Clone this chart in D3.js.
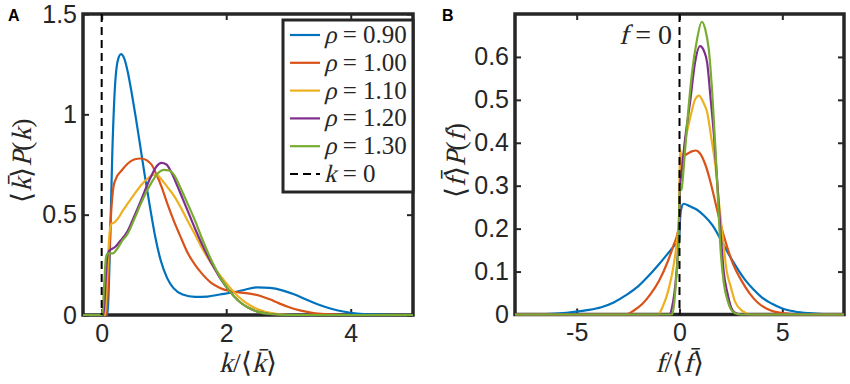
<!DOCTYPE html>
<html><head><meta charset="utf-8">
<script src="https://cdn.jsdelivr.net/npm/d3@7"></script>
<style>
body{margin:0;background:#fff}
text.math{white-space:pre}
</style></head><body>
<svg id="chart" width="850" height="384"></svg>
<script>
var rhoLabels = ["0.90", "1.00", "1.10", "1.20", "1.30"];
var colors = ["#0072bd", "#d95319", "#edb120", "#7e2f8e", "#77ac30"];

var aXTicks = [0, 2, 4], aYTicks = [0, 0.5, 1, 1.5];
var bXTicks = [-5, 0, 5], bYTicks = [0, 0.1, 0.2, 0.3, 0.4, 0.5, 0.6];

// panel A: <k>P(k) vs k/<k>
var kBlue = [[-0.3,0],[0.09,0],[0.13,0.3],[0.17,0.8],[0.21,1.12],[0.26,1.27],[0.31,1.30],[0.36,1.28],[0.42,1.21],[0.48,1.11],[0.55,0.98],[0.63,0.82],[0.70,0.68],[0.78,0.53],[0.86,0.39],[0.95,0.27],[1.05,0.185],[1.15,0.135],[1.3,0.102],[1.5,0.09],[1.7,0.092],[1.9,0.102],[2.1,0.112],[2.3,0.126],[2.5,0.138],[2.7,0.135],[2.9,0.123],[3.1,0.102],[3.3,0.075],[3.5,0.05],[3.7,0.03],[3.9,0.016],[4.1,0.007],[4.4,0.002],[4.8,0],[5,0]];
var kOrange = [[-0.3,0],[0.07,0],[0.11,0.2],[0.15,0.5],[0.19,0.64],[0.23,0.68],[0.32,0.72],[0.42,0.755],[0.52,0.775],[0.63,0.78],[0.72,0.772],[0.8,0.75],[0.88,0.70],[0.96,0.64],[1.06,0.55],[1.17,0.46],[1.28,0.38],[1.38,0.31],[1.5,0.25],[1.6,0.21],[1.76,0.16],[1.9,0.135],[2.05,0.12],[2.2,0.113],[2.4,0.105],[2.55,0.095],[2.7,0.078],[2.85,0.058],[3.0,0.04],[3.2,0.022],[3.4,0.01],[3.6,0.004],[3.9,0],[5,0]];
var kYellow = [[-0.3,0],[0.05,0],[0.09,0.2],[0.13,0.42],[0.16,0.455],[0.2,0.46],[0.26,0.48],[0.34,0.52],[0.42,0.556],[0.52,0.6],[0.63,0.645],[0.72,0.675],[0.8,0.695],[0.88,0.70],[0.96,0.675],[1.05,0.64],[1.17,0.59],[1.28,0.53],[1.38,0.47],[1.5,0.4],[1.6,0.34],[1.76,0.257],[1.92,0.19],[2.05,0.14],[2.2,0.09],[2.4,0.045],[2.6,0.018],[2.8,0.006],[3.1,0],[5,0]];
var kPurple = [[-0.3,0],[0.03,0],[0.06,0.15],[0.09,0.29],[0.12,0.32],[0.17,0.33],[0.22,0.34],[0.3,0.37],[0.42,0.42],[0.52,0.49],[0.63,0.57],[0.72,0.64],[0.8,0.695],[0.88,0.74],[0.96,0.758],[1.04,0.75],[1.12,0.71],[1.22,0.64],[1.3,0.58],[1.38,0.52],[1.5,0.43],[1.6,0.36],[1.76,0.26],[1.9,0.185],[2.05,0.12],[2.2,0.07],[2.35,0.037],[2.5,0.017],[2.7,0.005],[3.0,0],[5,0]];
var kGreen = [[-0.3,0],[0.01,0],[0.04,0.15],[0.07,0.29],[0.1,0.307],[0.18,0.307],[0.25,0.33],[0.33,0.37],[0.42,0.406],[0.52,0.475],[0.63,0.555],[0.72,0.615],[0.8,0.66],[0.9,0.705],[1.0,0.723],[1.08,0.72],[1.17,0.695],[1.27,0.63],[1.38,0.555],[1.5,0.47],[1.6,0.39],[1.76,0.274],[1.9,0.19],[2.05,0.12],[2.2,0.07],[2.35,0.037],[2.5,0.017],[2.7,0.005],[3.0,0],[5,0]];

// panel B: <f>P(f) vs f/<f>
var fBlue = [[-8,0],[-6.5,0.001],[-5.5,0.004],[-4.5,0.01],[-3.8,0.017],[-3.2,0.028],[-2.6,0.045],[-2.0,0.066],[-1.5,0.09],[-1.0,0.117],[-0.6,0.14],[-0.25,0.16],[-0.02,0.172],[0.02,0.215],[0.08,0.245],[0.2,0.258],[0.5,0.252],[0.85,0.244],[1.2,0.23],[1.6,0.208],[2.0,0.175],[2.4,0.14],[2.8,0.108],[3.2,0.08],[3.6,0.058],[4.0,0.04],[4.5,0.025],[5.0,0.014],[5.6,0.007],[6.3,0.003],[7,0.001],[8,0]];
var fOrange = [[-8,0],[-2.6,0],[-2.2,0.01],[-1.8,0.025],[-1.4,0.048],[-1.0,0.078],[-0.6,0.12],[-0.3,0.16],[-0.05,0.2],[0.02,0.3],[0.06,0.365],[0.3,0.372],[0.6,0.38],[0.8,0.382],[1.0,0.375],[1.25,0.35],[1.5,0.31],[1.75,0.26],[2.0,0.21],[2.3,0.16],[2.6,0.118],[3.0,0.08],[3.4,0.05],[3.8,0.028],[4.3,0.012],[5,0.003],[6,0],[8,0]];
var fYellow = [[-8,0],[-1.05,0],[-0.8,0.02],[-0.55,0.055],[-0.3,0.11],[-0.1,0.18],[-0.02,0.22],[0.02,0.385],[0.06,0.375],[0.12,0.36],[0.3,0.41],[0.53,0.46],[0.75,0.5],[0.95,0.51],[1.15,0.495],[1.35,0.47],[1.55,0.41],[1.75,0.345],[1.92,0.26],[2.08,0.19],[2.3,0.1],[2.49,0.065],[2.7,0.03],[3.07,0.008],[3.5,0],[8,0]];
var fPurple = [[-8,0],[-0.5,0],[-0.35,0.02],[-0.2,0.07],[-0.08,0.14],[-0.01,0.2],[0.03,0.3],[0.1,0.33],[0.25,0.4],[0.53,0.5],[0.75,0.585],[1.0,0.625],[1.18,0.615],[1.35,0.585],[1.5,0.51],[1.67,0.42],[1.85,0.3],[2.0,0.19],[2.15,0.1],[2.33,0.05],[2.5,0.018],[2.7,0.004],[3,0],[8,0]];
var fGreen = [[-8,0],[-0.35,0],[-0.25,0.03],[-0.15,0.09],[-0.05,0.17],[0.02,0.3],[0.1,0.29],[0.2,0.34],[0.4,0.46],[0.6,0.56],[0.85,0.64],[1.08,0.682],[1.25,0.665],[1.43,0.615],[1.6,0.51],[1.75,0.385],[1.88,0.26],[2.0,0.15],[2.15,0.075],[2.33,0.034],[2.5,0.012],[2.7,0.003],[3,0],[8,0]];

var kSeries = [kBlue, kOrange, kYellow, kPurple, kGreen];
var fSeries = [fBlue, fOrange, fYellow, fPurple, fGreen];

var svg = d3.select("#chart");
var ink = "#262626";
var sansFont = "Liberation Sans";
var serifFont = "Liberation Serif";

function fmt(d) { return String(+d.toFixed(2)); }

// LaTeX-like label: pieces of [text, italic]; no serif italic face here,
// so italic pieces are the upright serif slanted by hand
function mathLabel(parent, parts, x, y, anchor, size, rotate) {
    var outer = parent.append("g")
        .attr("transform", "translate(" + x + "," + y + ")" + (rotate ? " rotate(" + rotate + ")" : ""));
    var g = outer.append("g");
    var cx = 0;
    parts.forEach(function (p) {
        var t = g.append("text")
            .attr("class", "math")
            .attr("font-family", serifFont)
            .attr("font-size", size)
            .attr("fill", ink)
            .attr("transform", "translate(" + cx + ",0)" + (p[1] ? " skewX(-14)" : ""))
            .text(p[0]);
        cx += t.node().getComputedTextLength();
    });
    var shift = anchor === "middle" ? -cx / 2 : anchor === "end" ? -cx : 0;
    g.attr("transform", "translate(" + shift + ",0)");
    return outer;
}

function drawPanel(cfg) {
    var x = d3.scaleLinear().domain(cfg.xDomain).range([cfg.left, cfg.right]);
    var y = d3.scaleLinear().domain(cfg.yDomain).range([cfg.bottom, cfg.top]);
    var g = svg.append("g");

    var clipId = "clip" + cfg.name;
    svg.append("clipPath").attr("id", clipId)
        .append("rect")
        .attr("x", cfg.left - 2).attr("y", cfg.top - 2)
        .attr("width", cfg.right - cfg.left + 4).attr("height", cfg.bottom - cfg.top + 4);

    // ticks, pointing inward on all four sides
    var axes = [
        [d3.axisBottom(x).tickValues(cfg.xTicks).tickFormat(fmt), cfg.bottom, 0, 9],
        [d3.axisTop(x).tickValues(cfg.xTicks).tickFormat(""), cfg.top, 0, 0],
        [d3.axisLeft(y).tickValues(cfg.yTicks).tickFormat(fmt), 0, cfg.left, 6],
        [d3.axisRight(y).tickValues(cfg.yTicks).tickFormat(""), 0, cfg.right, 0]
    ];
    axes.forEach(function (a) {
        var ax = g.append("g")
            .attr("transform", "translate(" + a[2] + "," + a[1] + ")")
            .call(a[0].tickSizeInner(-6).tickSizeOuter(0).tickPadding(a[3]));
        ax.select(".domain").remove();
        ax.attr("font-family", sansFont).attr("font-size", 25);
        ax.selectAll("line").attr("stroke", ink).attr("stroke-width", 2);
        ax.selectAll("text").attr("fill", ink);
    });

    g.append("rect")
        .attr("x", cfg.left).attr("y", cfg.top)
        .attr("width", cfg.right - cfg.left).attr("height", cfg.bottom - cfg.top)
        .attr("fill", "none").attr("stroke", ink).attr("stroke-width", 3.5);

    var line = d3.line()
        .x(function (d) { return x(d[0]); })
        .y(function (d) { return y(d[1]); })
        .curve(d3.curveMonotoneX);

    var lines = svg.append("g").attr("clip-path", "url(#" + clipId + ")");
    lines.selectAll("path.series")
        .data(cfg.series)
        .enter().append("path")
        .attr("class", "series")
        .attr("d", line)
        .attr("fill", "none")
        .attr("stroke", function (d, i) { return colors[i]; })
        .attr("stroke-width", 2.2)
        .attr("stroke-linejoin", "round");

    lines.append("line")
        .attr("x1", x(0)).attr("x2", x(0))
        .attr("y1", cfg.top).attr("y2", cfg.bottom)
        .attr("stroke", "#000").attr("stroke-width", 2)
        .attr("stroke-dasharray", "8,5");

    // axis labels
    mathLabel(svg, cfg.xLabel, (cfg.left + cfg.right) / 2, 372, "middle", 28);
    mathLabel(svg, cfg.yLabel, cfg.yLabelX, (cfg.top + cfg.bottom) / 2 - 4, "middle", 28, -90);

    svg.append("text")
        .attr("x", cfg.panelX).attr("y", 21)
        .attr("fill", "#000")
        .attr("font-family", sansFont).attr("font-weight", "bold").attr("font-size", 16)
        .text(cfg.name);

    return { x: x, y: y };
}

drawPanel({
    name: "A", left: 83, right: 413, top: 14, bottom: 315,
    xDomain: [-0.3, 5], yDomain: [0, 1.5],
    xTicks: aXTicks, yTicks: aYTicks, series: kSeries,
    xLabel: [["k", true], ["/\u27e8", false], ["k\u0304", true], ["\u27e9", false]],
    yLabel: [["\u27e8", false], ["k\u0304", true], ["\u27e9", false], ["P", true], ["(", false], ["k", true], [")", false]],
    yLabelX: 31, panelX: 8
});

drawPanel({
    name: "B", left: 515, right: 844, top: 14, bottom: 314.5,
    xDomain: [-8, 8], yDomain: [0, 0.7],
    xTicks: bXTicks, yTicks: bYTicks, series: fSeries,
    xLabel: [["f", true], ["/\u27e8", false], ["f\u0304", true], ["\u27e9", false]],
    yLabel: [["\u27e8", false], ["f\u0304", true], ["\u27e9", false], ["P", true], ["(", false], ["f", true], [")", false]],
    yLabelX: 465, panelX: 442
});

// "f = 0" note in panel B
mathLabel(svg, [["f", true], [" = 0", false]], 672, 44, "end", 28);

// legend in panel A
var legend = svg.append("g");
legend.append("rect")
    .attr("x", 283).attr("y", 20).attr("width", 130).attr("height", 172)
    .attr("fill", "#fff").attr("stroke", ink).attr("stroke-width", 3);

var legendItems = rhoLabels.map(function (r, i) {
    return { parts: [["\u03c1", true], [" = " + r, false]], color: colors[i], dash: null };
});
legendItems.push({ parts: [["k", true], [" = 0", false]], color: "#000", dash: "8,5" });

legendItems.forEach(function (d, i) {
    var yy = 35 + i * 27.8;
    legend.append("line")
        .attr("x1", 290).attr("x2", 320).attr("y1", yy).attr("y2", yy)
        .attr("stroke", d.color)
        .attr("stroke-width", 2.2)
        .attr("stroke-dasharray", d.dash);
    mathLabel(legend, d.parts, 324, yy + 8, "start", 25);
});
</script>
</body></html>
